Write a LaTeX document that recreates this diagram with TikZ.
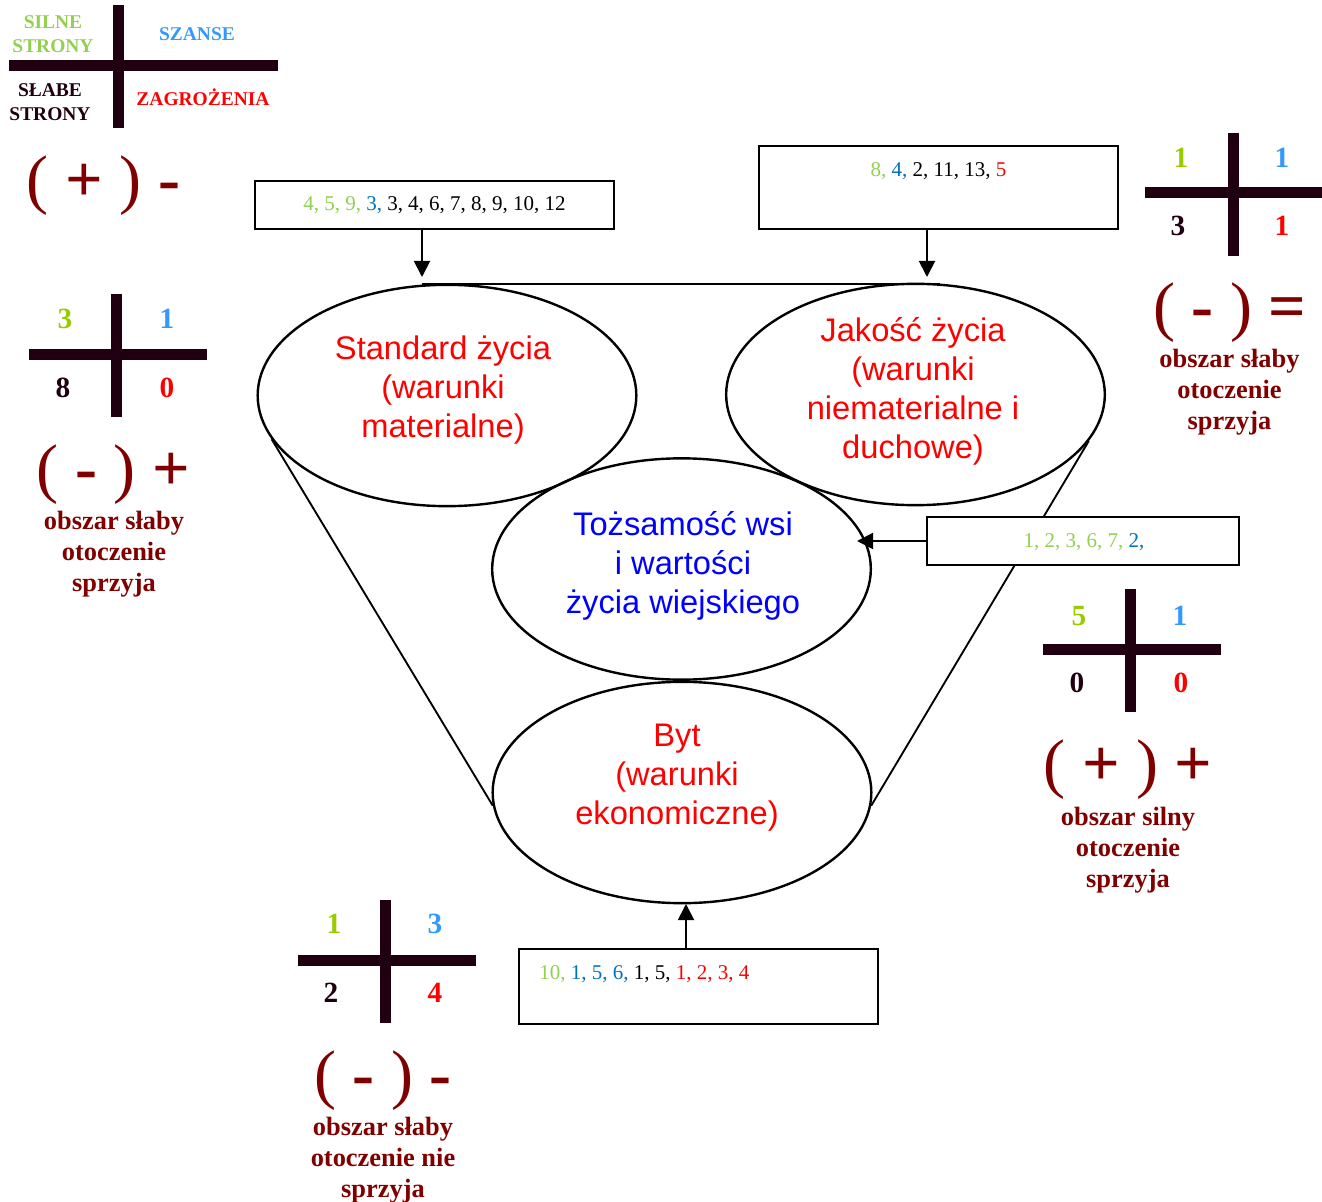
\documentclass[tikz,border=0pt]{standalone}
\usepackage{fontspec}
\setmainfont{Liberation Serif}
\newfontfamily\arialf{Liberation Sans}
\usetikzlibrary{shapes.geometric,arrows.meta}
\definecolor{lgreen}{HTML}{92D050}
\definecolor{lblue}{HTML}{3399FF}
\definecolor{bblue}{HTML}{0070C0}
\definecolor{ngreen}{HTML}{99CC00}
\definecolor{dark}{HTML}{200010}
\definecolor{maroon}{HTML}{800000}
\definecolor{pred}{HTML}{FF0000}
\definecolor{pblue}{HTML}{0000FF}
\begin{document}
\begin{tikzpicture}[x=0.75pt,y=-0.75pt,
  oval/.style={ellipse, draw, line width=1.8pt, minimum width=284pt, minimum height=166pt, inner sep=0pt},
  ovaltext/.style={font=\arialf\fontsize{24.5}{29.25}\selectfont, align=center, inner sep=0pt},
  numbox/.style={draw, fill=white, line width=1.2pt, inner sep=0pt},
  boxtext/.style={font=\fontsize{15.75}{18}\selectfont, inner sep=0pt},
  bar/.style={line width=8.25pt, draw=dark},
  num/.style={font=\bfseries\fontsize{22}{26}\selectfont, inner sep=0pt},
  sign/.style={font=\fontsize{49.5}{55}\selectfont, text=maroon, inner sep=0pt},
  verdict/.style={font=\bfseries\fontsize{19.8}{23.25}\selectfont, text=maroon, align=center, inner sep=0pt},
  legend/.style={font=\bfseries\fontsize{14.6}{18}\selectfont, align=center, inner sep=0pt},
  arr/.style={line width=1.4pt, -{Triangle[width=12pt,length=12pt]}},
  link/.style={line width=1.4pt}
]
\useasboundingbox (0,0) rectangle (1322,1202);

% ---- legend cross ----
\draw[bar] (9,65.5) -- (278,65.5);
\draw[bar] (118,5) -- (118,128);
\node[legend, text=lgreen] (lsil) at (53,34) {SILNE\\STRONY};
\node[legend, text=lblue] (lsza) at (197,34) {SZANSE};
\node[legend, text=dark] (lsla) at (50,102) {SŁABE\\STRONY};
\node[legend, text=pred] (lzag) at (203,97.5) {ZAGROŻENIA};
\node[sign] (s0) at (103.5,186) {( \textbf{+} ) \textbf{-}};

% ---- cross left-middle ----
\draw[bar] (29,354) -- (207,354);
\draw[bar] (116,294) -- (116,417);
\node[num, text=ngreen] (c2a) at (65,319) {3};
\node[num, text=lblue] (c2b) at (167,319) {1};
\node[num, text=dark] (c2c) at (63,388) {8};
\node[num, text=pred] (c2d) at (167,388) {0};
\node[sign] (s2) at (113.5,475) {( \textbf{-} ) \textbf{+}};
\node[verdict] (v2) at (114,554) {obszar słaby\\otoczenie\\sprzyja};

% ---- cross right-top ----
\draw[bar] (1145,193) -- (1322,193);
\draw[bar] (1233,133) -- (1233,256);
\node[num, text=ngreen] (c3a) at (1181,158) {1};
\node[num, text=lblue] (c3b) at (1282,158) {1};
\node[num, text=dark] (c3c) at (1178,226) {3};
\node[num, text=pred] (c3d) at (1282,226) {1};
\node[sign] (s3) at (1230,313) {( \textbf{-} ) \textbf{=}};
\node[verdict] (v3) at (1229.5,392) {obszar słaby\\otoczenie\\sprzyja};

% ---- cross right-middle ----
\draw[bar] (1043,649) -- (1221,649);
\draw[bar] (1130,589) -- (1130,712);
\node[num, text=ngreen] (c4a) at (1079,616) {5};
\node[num, text=lblue] (c4b) at (1180,616) {1};
\node[num, text=dark] (c4c) at (1077,683) {0};
\node[num, text=pred] (c4d) at (1181,683) {0};
\node[sign] (s4) at (1128,770) {( \textbf{+} ) \textbf{+}};
\node[verdict] (v4) at (1128,850) {obszar silny\\otoczenie\\sprzyja};

% ---- cross bottom-left ----
\draw[bar] (298,960) -- (476,960);
\draw[bar] (385,900) -- (385,1023);
\node[num, text=ngreen] (c5a) at (334,924) {1};
\node[num, text=lblue] (c5b) at (435,924) {3};
\node[num, text=dark] (c5c) at (331,993) {2};
\node[num, text=pred] (c5d) at (435,993) {4};
\node[sign] (s5) at (383,1081) {( \textbf{-} ) \textbf{-}};
\node[verdict] (v5) at (383,1160) {obszar słaby\\otoczenie nie\\sprzyja};

% ---- ellipses ----
\node[oval] (e1) at (447,395.5) {};
\node[oval] (e2) at (915.5,394.5) {};
\node[oval] (e3) at (681.5,569) {};
\node[oval] (e4) at (682,792.5) {};
\node[ovaltext, text=pred] (t1) at (443,390) {Standard życia\\(warunki\\materialne)};
\node[ovaltext, text=pred] (t2) at (913,391) {Jakość życia\\(warunki\\niematerialne i\\duchowe)};
\node[ovaltext, text=pblue] (t3) at (683,565.5) {Tożsamość wsi\\i wartości\\życia wiejskiego};
\node[ovaltext, text=pred] (t4) at (677,777.5) {Byt\\(warunki\\ekonomiczne)};

% ---- funnel ----
\coordinate (tl) at (422,284);
\coordinate (tr) at (940,284);
\draw[line width=2.2pt] (tl) -- (tr);
\draw[link] (e1.194.7) -- (e4.184);
\draw[link] (e2.345) -- (e4.356);

% ---- boxes ----
\node[numbox, minimum width=269.25pt, minimum height=36pt] (b1) at (434.5,205) {};
\node[boxtext] (bt1) at (434.5,205) {\textcolor{lgreen}{4, 5, 9, }\textcolor{bblue}{3, }3, 4, 6, 7, 8, 9, 10, 12};
\node[numbox, minimum width=269.25pt, minimum height=62.25pt] (b2) at (938.5,187.5) {};
\node[boxtext] (bt2) at (938.5,171) {\textcolor{lgreen}{8, }\textcolor{bblue}{4, }2, 11, 13, \textcolor{pred}{5}};
\node[numbox, minimum width=234pt, minimum height=36pt] (b3) at (1083,541) {};
\node[boxtext] (bt3) at (1084,542) {\textcolor{lgreen}{1, 2, 3, 6, 7, }\textcolor{bblue}{2,}};
\node[numbox, minimum width=269.25pt, minimum height=56.25pt] (b4) at (698.5,986.5) {};
\node[boxtext, anchor=west] (bt4) at (539,974) {\textcolor{lgreen}{10, }\textcolor{bblue}{1, 5, 6, }1, 5, \textcolor{pred}{1, 2, 3, 4}};

% ---- arrows ----
\coordinate (a1) at (422,277);
\coordinate (a2) at (927,277);
\coordinate (a3) at (857,541);
\coordinate (a4) at (686,904);
\draw[arr] (b1.south -| a1) -- (a1);
\draw[arr] (b2.south -| a2) -- (a2);
\draw[arr] (b3.west) -- (a3);
\draw[arr] (b4.north -| a4) -- (a4);
\end{tikzpicture}
\end{document}
